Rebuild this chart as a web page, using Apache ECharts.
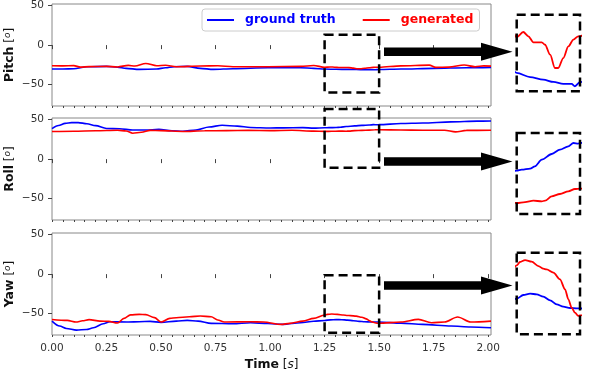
<!DOCTYPE html>
<html>
<head>
<meta charset="utf-8">
<script src="https://cdn.jsdelivr.net/npm/echarts@6/dist/echarts.min.js"></script>
<style>
html,body{margin:0;padding:0;background:#fff}
#chart{width:598px;height:373px}
</style>
</head>
<body>
<div id="chart"></div>
<script>
// data is [time (s), angle (deg)]
var pitchTruth = [[0,-30.3],[0.05,-30.2],[0.1,-29.8],[0.16,-27.4],[0.25,-26.9],[0.3,-28.0],[0.34,-29.4],[0.4,-30.7],[0.48,-30.3],[0.52,-28.6],[0.56,-27.3],[0.62,-26.9],[0.68,-29.4],[0.74,-30.7],[0.83,-29.8],[0.99,-28.6],[1.14,-28.6],[1.2,-29.4],
  [1.25,-30.3],[1.303,-30.57],[1.355,-30.74],[1.395,-30.89],[1.434,-31.02],[1.467,-31.02],[1.48,-31.17],[1.5,-30.9],
  [1.6,-30.3],[1.75,-29.4],[1.9,-28.6],[2.013,-28.2]]
var pitchGen = [[0,-26.1],[0.05,-26.3],[0.1,-26.0],[0.13,-27.8],[0.17,-27.2],[0.25,-26.9],[0.3,-27.6],[0.35,-25.6],[0.38,-26.4],[0.43,-23.2],[0.48,-26.1],[0.52,-25.4],[0.57,-27.3],[0.68,-26.5],[0.76,-26.1],[0.83,-27.3],[0.99,-27.3],[1.14,-26.9],[1.2,-25.8],
  [1.25,-27.98],[1.276,-27.63],[1.296,-27.91],[1.316,-28.3],[1.336,-28.3],[1.349,-28.3],[1.362,-28.46],[1.382,-29.11],[1.401,-29.98],[1.414,-29.98],[1.434,-29.33],[1.454,-28.57],[1.474,-28.13],[1.493,-27.91],[1.5,-27.91],
  [1.6,-26.2],[1.73,-25.3],[1.76,-28.2],[1.82,-27.8],[1.89,-25.2],[1.94,-27.3],[1.98,-26.3],[2.013,-26.6]]
var rollTruth = [[0,38.6],[0.03,42.5],[0.06,45.2],[0.09,46.1],[0.12,46.2],[0.16,44.8],[0.2,42.4],[0.25,38.8],[0.31,38.4],[0.37,36.8],[0.43,36.8],[0.49,37.6],[0.55,35.8],[0.6,35.2],[0.66,36.8],[0.72,40.6],[0.78,42.8],[0.85,41.7],[0.91,40.0],[1.0,39.4],[1.06,39.5],[1.15,39.8],[1.2,39.2],
  [1.25,39.65],[1.27,39.79],[1.303,39.94],[1.322,40.27],[1.349,41.21],[1.388,42.02],[1.421,42.63],[1.454,43.11],[1.474,43.58],[1.493,43.49],[1.5,43.58],
  [1.6,45.0],[1.7,45.7],[1.83,47.1],[1.95,48.0],[2.013,48.3]]
var rollGen = [[0,35.0],[0.1,35.3],[0.2,35.8],[0.3,36.5],[0.34,35.6],[0.37,32.8],[0.41,34.0],[0.45,36.4],[0.5,36.0],[0.6,35.0],[0.7,35.8],[0.8,36.0],[0.9,36.3],[1.0,36.0],[1.1,36.5],[1.2,35.4],
  [1.25,35.06],[1.283,35.2],[1.316,35.39],[1.349,35.3],[1.362,35.39],[1.388,36.0],[1.421,36.34],[1.454,36.72],[1.48,37.05],[1.5,37.1],
  [1.6,36.8],[1.7,36.5],[1.8,36.5],[1.85,34.4],[1.9,36.3],[2.013,36.5]]
var yawTruth = [[0,-59.4],[0.035,-65.7],[0.066,-68.7],[0.112,-70.8],[0.158,-70.0],[0.19,-67.9],[0.235,-62.8],[0.265,-60.2],[0.35,-60.6],[0.4,-60.2],[0.45,-59.8],[0.5,-61.0],[0.57,-59.4],[0.62,-58.5],[0.67,-59.4],[0.73,-62.3],[0.83,-62.8],[0.91,-61.5],[0.99,-62.5],[1.06,-63.6],[1.14,-61.5],[1.2,-59.6],
  [1.25,-58.58],[1.276,-57.81],[1.303,-57.54],[1.329,-57.67],[1.355,-58.16],[1.382,-58.92],[1.408,-59.76],[1.434,-60.24],[1.461,-60.52],[1.487,-60.59],[1.5,-60.59],
  [1.6,-62.0],[1.7,-63.6],[1.83,-65.7],[1.92,-66.8],[2.013,-67.9]]
var yawGen = [[0,-57.3],[0.07,-58.5],[0.11,-60.6],[0.14,-59.0],[0.17,-57.5],[0.22,-59.5],[0.26,-59.8],[0.3,-61.9],[0.33,-56.0],[0.36,-51.5],[0.4,-50.9],[0.43,-51.2],[0.47,-55.0],[0.5,-60.6],[0.54,-56.0],[0.57,-55.1],[0.63,-54.0],[0.68,-53.0],[0.73,-53.9],[0.76,-58.0],[0.79,-60.6],[0.91,-60.2],[0.97,-60.6],[1.05,-63.6],[1.09,-62.3],[1.15,-59.5],[1.2,-56.0],
  [1.25,-51.64],[1.263,-50.94],[1.283,-50.53],[1.309,-50.87],[1.336,-51.78],[1.355,-52.33],[1.368,-52.47],[1.395,-53.16],[1.421,-54.55],[1.441,-56.63],[1.454,-58.71],[1.467,-60.45],[1.48,-61.49],[1.493,-62.18],[1.5,-62.05],
  [1.6,-60.6],[1.68,-57.3],[1.74,-61.5],[1.8,-60.6],[1.86,-54.3],[1.92,-60.6],[2.013,-59.4]]

var panelNames = ['Pitch','Roll','Yaw']
var xTickValues = [0,0.25,0.5,0.75,1,1.25,1.5,1.75,2]
var yTickValues = [-50,0,50]
var zoomWindow = [1.25,1.5]
var insetYRange = [[-31.5,-26.5],[33.5,45],[-66,-49]]
var zoomBoxY = [[13,-60],[63.5,-11],[-1.3,-74]]

var truth = [pitchTruth,rollTruth,yawTruth]
var gen = [pitchGen,rollGen,yawGen]

// layout
var font = 'DejaVu Sans'
var plotLeft = 52, plotWidth = 439
var gridTops = [4,118,233], gridHeight = 102
var insetLeft = 516.7, insetWidth = 63.3
var insetTops = [14.7,133,252.7], insetHeights = [76.6,81,81.6]
var arrowY = [51.8,161.5,285.5]
var blue = '#0000ff', red = '#ff0000'

var minorTicks = []
for(var m=0;m<=40;m++) minorTicks.push(Math.round(m*5)/100)

var nameRich = {
  b:{fontFamily:font,fontSize:12.5,fontWeight:'bold',color:'#111'},
  n:{fontFamily:font,fontSize:12,color:'#111'},
  s:{fontFamily:font,fontSize:9,fontStyle:'italic',color:'#111',verticalAlign:'top'},
  i:{fontFamily:font,fontSize:12,fontStyle:'italic',color:'#111'}
}

var grids = [], xAxes = [], yAxes = [], series = []
panelNames.forEach((name,i)=>{
  grids.push({left:plotLeft,top:gridTops[i],width:plotWidth,height:gridHeight,show:true,
    borderColor:'#888',borderWidth:1,outerBoundsMode:'none'})
  // major ticks (+ labels on the bottom panel)
  xAxes.push({type:'value',gridIndex:i,position:'bottom',min:0,max:2.013,
    axisLine:{show:false},splitLine:{show:false},
    axisTick:{show:true,customValues:xTickValues,length:4,lineStyle:{color:'#444'}},
    axisLabel:{show:i===2,customValues:xTickValues,margin:8,color:'#333',fontFamily:font,fontSize:10.5,
      formatter:(v)=>v.toFixed(2)},
    name:i===2 ? '{b|Time} {n|[}{i|s}{n|]}' : '',nameLocation:'middle',nameGap:23,nameMoveOverlap:false,
    nameTextStyle:{fontFamily:font,fontSize:12,color:'#111',rich:nameRich}})
  // minor ticks
  xAxes.push({type:'value',gridIndex:i,position:'bottom',min:0,max:2.013,
    axisLine:{show:false},splitLine:{show:false},axisLabel:{show:false},
    axisTick:{show:true,customValues:minorTicks,length:2,lineStyle:{color:'#444'}}})
  yAxes.push({type:'value',gridIndex:i,min:-77,max:52,
    axisLine:{show:false},splitLine:{show:false},
    axisTick:{show:true,customValues:yTickValues,length:4,lineStyle:{color:'#444'}},
    axisLabel:{customValues:yTickValues,margin:8,color:'#333',fontFamily:font,fontSize:10.5,
      formatter:(v)=>v<0 ? '\u2212'+Math.abs(v) : ''+v},
    name:'{b|'+name+'} {n|[}{s|o}{n|]}',nameLocation:'middle',nameGap:36,nameMoveOverlap:false,
    nameTextStyle:{fontFamily:font,fontSize:12,color:'#111',rich:nameRich}})
})
panelNames.forEach((name,i)=>{
  grids.push({left:insetLeft,top:insetTops[i],width:insetWidth,height:insetHeights[i],show:false,outerBoundsMode:'none'})
  xAxes.push({type:'value',gridIndex:3+i,min:zoomWindow[0],max:zoomWindow[1],show:false})
  yAxes.push({type:'value',gridIndex:3+i,min:insetYRange[i][0],max:insetYRange[i][1],show:false})
})

function lineSerie(name,data,color,xi,yi,w){
  return {type:'line',name:name,data:data,xAxisIndex:xi,yAxisIndex:yi,symbol:'none',
    smooth:0.3,smoothMonotone:'x',clip:true,
    lineStyle:{color:color,width:w},itemStyle:{color:color}}
}
panelNames.forEach((name,i)=>{
  series.push(lineSerie('ground truth',truth[i],blue,2*i,i,1.6))
  series.push(lineSerie('generated',gen[i],red,2*i,i,1.6))
  series.push(lineSerie('ground truth',truth[i],blue,6+i,3+i,1.8))
  series.push(lineSerie('generated',gen[i],red,6+i,3+i,1.8))
})

var chart = echarts.init(document.getElementById('chart'),null,{renderer:'canvas'})
chart.setOption({
  animation:false,
  backgroundColor:'#fff',
  grid:grids,
  xAxis:xAxes,
  yAxis:yAxes,
  legend:{
    left:202,top:9,icon:'rect',itemWidth:27,itemHeight:2,itemGap:27,padding:[4,6,4,5],
    backgroundColor:'rgba(255,255,255,0.85)',borderColor:'#ccc',borderWidth:1,borderRadius:3,
    textStyle:{fontFamily:font,fontSize:12.5,fontWeight:'bold',padding:[0,0,0,6],lineHeight:14},
    data:[{name:'ground truth',textStyle:{color:blue}},{name:'generated',textStyle:{color:red}}]
  },
  series:series
})

// dashed boxes, arrows and inset frames
var dash = {fill:'none',stroke:'#000',lineWidth:2.5,lineDash:[9,5]}
var graphics = []
panelNames.forEach((name,i)=>{
  var p0 = chart.convertToPixel({xAxisIndex:2*i,yAxisIndex:i},[zoomWindow[0],zoomBoxY[i][0]])
  var p1 = chart.convertToPixel({xAxisIndex:2*i,yAxisIndex:i},[zoomWindow[1],zoomBoxY[i][1]])
  graphics.push({type:'rect',z:100,shape:{x:p0[0],y:p0[1],width:p1[0]-p0[0],height:p1[1]-p0[1]},style:dash})
  graphics.push({type:'rect',z:100,shape:{x:insetLeft,y:insetTops[i],width:insetWidth,height:insetHeights[i]},style:dash})
  var cy = arrowY[i]
  graphics.push({type:'polygon',z:100,shape:{points:[
    [384,cy-4.2],[481,cy-4.2],[481,cy-9],[512.5,cy],[481,cy+9],[481,cy+4.2],[384,cy+4.2]
  ]},style:{fill:'#000'}})
})
chart.setOption({graphic:graphics})
</script>
</body>
</html>
